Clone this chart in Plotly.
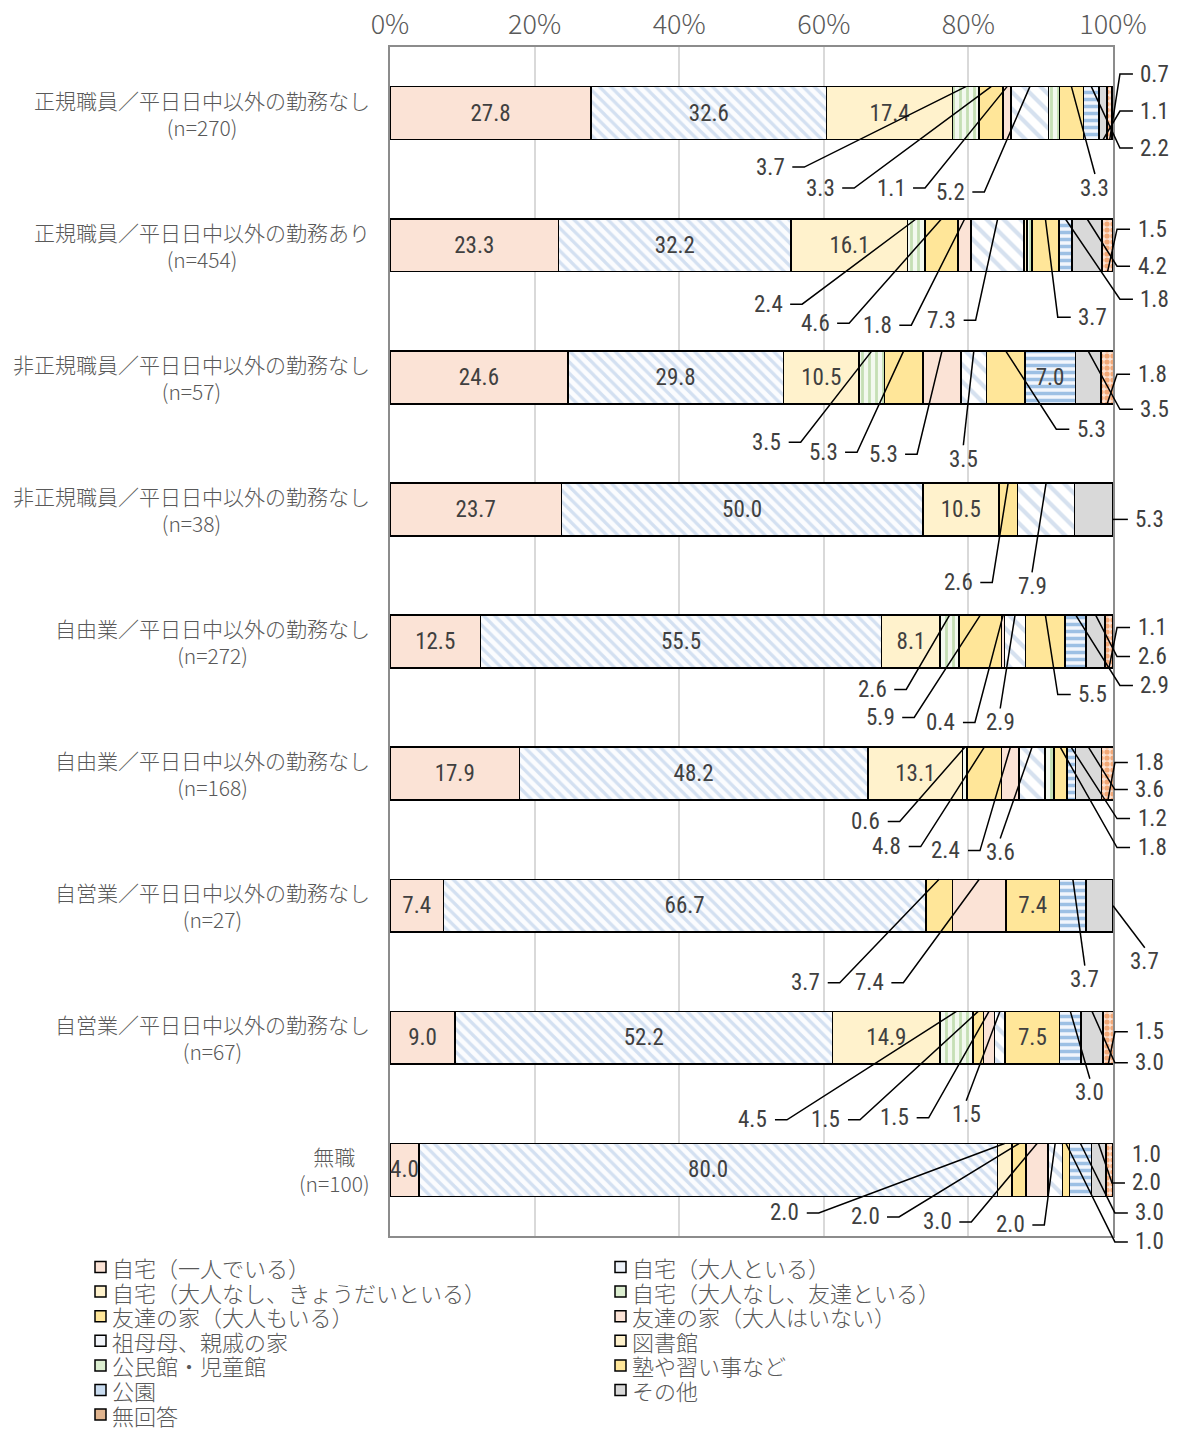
import plotly.graph_objects as go

# ---------------- data ----------------
categories = [
    "自宅（一人でいる）", "自宅（大人といる）", "自宅（大人なし、きょうだいといる）",
    "自宅（大人なし、友達といる）", "友達の家（大人もいる）", "友達の家（大人はいない）",
    "祖母母、親戚の家", "図書館", "公民館・児童館", "塾や習い事など", "公園", "その他", "無回答",
]
groups = [
    "正規職員／平日日中以外の勤務なし", "正規職員／平日日中以外の勤務あり",
    "非正規職員／平日日中以外の勤務なし", "非正規職員／平日日中以外の勤務なし",
    "自由業／平日日中以外の勤務なし", "自由業／平日日中以外の勤務なし",
    "自営業／平日日中以外の勤務なし", "自営業／平日日中以外の勤務なし", "無職",
]
n_labels = ["(n=270)", "(n=454)", "(n=57)", "(n=38)", "(n=272)", "(n=168)", "(n=27)", "(n=67)", "(n=100)"]

home_alone     = [27.8, 23.3, 24.6, 23.7, 12.5, 17.9, 7.4, 9.0, 4.0]
home_adult     = [32.6, 32.2, 29.8, 50.0, 55.5, 48.2, 66.7, 52.2, 80.0]
home_sibling   = [17.4, 16.1, 10.5, 10.5, 8.1, 13.1, 0.0, 14.9, 2.0]
home_friend    = [3.7, 2.4, 3.5, 0.0, 2.6, 0.6, 0.0, 4.5, 0.0]
friend_adult   = [3.3, 4.6, 5.3, 2.6, 5.9, 4.8, 3.7, 1.5, 2.0]
friend_noadult = [1.1, 1.8, 5.3, 0.0, 0.4, 2.4, 7.4, 1.5, 3.0]
grandparents   = [5.2, 7.3, 3.5, 7.9, 2.9, 3.6, 0.0, 1.5, 2.0]
library        = [0.0, 0.4, 0.0, 0.0, 0.0, 0.0, 0.0, 0.0, 0.0]
community      = [1.5, 0.7, 0.0, 0.0, 0.0, 1.2, 0.0, 0.0, 0.0]
cram_school    = [3.3, 3.7, 5.3, 0.0, 5.5, 1.8, 7.4, 7.5, 1.0]
park           = [2.2, 1.8, 7.0, 0.0, 2.9, 1.2, 3.7, 3.0, 3.0]
other          = [1.1, 4.2, 3.5, 5.3, 2.6, 3.6, 3.7, 3.0, 2.0]
no_answer      = [0.7, 1.5, 1.8, 0.0, 1.1, 1.8, 0.0, 1.5, 1.0]

series = [home_alone, home_adult, home_sibling, home_friend, friend_adult, friend_noadult,
          grandparents, library, community, cram_school, park, other, no_answer]

axis_ticks = [0, 20, 40, 60, 80, 100]
axis_ticktext = ["0%", "20%", "40%", "60%", "80%", "100%"]

# ---------------- styles ----------------
styles = [
    dict(color="#FBE3D6"),
    dict(pattern=dict(shape="\\", fgcolor="#D3E0F1", bgcolor="#FBFCFE", size=8, solidity=0.4)),
    dict(color="#FFF2CC"),
    dict(pattern=dict(shape="|", fgcolor="#C5DFB4", bgcolor="#F3F9EF", size=7, solidity=0.4)),
    dict(color="#FFE699"),
    dict(color="#FBE3D6"),
    dict(pattern=dict(shape="\\", fgcolor="#D6E1EF", bgcolor="#FFFFFF", size=12, solidity=0.35)),
    dict(color="#FFF2CC"),
    dict(pattern=dict(shape="|", fgcolor="#C5DFB4", bgcolor="#F3F9EF", size=7, solidity=0.4)),
    dict(color="#FFE699"),
    dict(pattern=dict(shape="-", fgcolor="#9DC0E4", bgcolor="#F2F6FC", size=7, solidity=0.5)),
    dict(color="#D9D9D9"),
    dict(pattern=dict(shape=".", fgcolor="#F2A877", bgcolor="#FCE4D6", size=6, solidity=0.6)),
]
legend_colors = ["#FBE3D6", "#EEF3FA", "#FFF2CC", "#DCEED0", "#FFE699", "#FBE3D6",
                 "#F2F5FA", "#FFF2CC", "#DCEED0", "#FFE699", "#C9DCF0", "#D9D9D9", "#E0B48E"]

# callout label placement: (row, series, label x in %, dy px from bar centre, mode[, anchor])
callouts = [
    (0, 3, 52.6, 54, "L"), (0, 4, 59.5, 75, "L"), (0, 5, 69.3, 75, "L"), (0, 6, 77.5, 79, "L"),
    (0, 9, 97.5, 75, "T"), (0, 12, 105.8, -39, "R"), (0, 11, 105.8, -2, "R"), (0, 10, 105.8, 35, "R"),
    (1, 3, 52.3, 59, "L"), (1, 4, 58.8, 78, "L"), (1, 5, 67.4, 80, "L"), (1, 6, 76.3, 75, "L"),
    (1, 9, 97.2, 72, "R"), (1, 12, 105.4, -16, "R"), (1, 11, 105.4, 21, "R"), (1, 10, 105.8, 54, "R"),
    (2, 3, 52.1, 65, "L"), (2, 4, 59.9, 75, "L"), (2, 5, 68.2, 77, "L"), (2, 6, 79.3, 82, "T"),
    (2, 9, 97.0, 52, "R"), (2, 12, 105.4, -3, "R"), (2, 11, 105.8, 32, "R"),
    (3, 4, 78.6, 73, "L"), (3, 6, 88.8, 77, "T"), (3, 11, 105.1, 10, "R", "r"),
    (4, 3, 66.7, 48, "L"), (4, 4, 67.8, 76, "L"), (4, 5, 76.2, 81, "L"), (4, 6, 84.4, 81, "T"),
    (4, 9, 97.2, 53, "R"), (4, 12, 105.4, -14, "R"), (4, 11, 105.4, 15, "R"), (4, 10, 105.8, 44, "R"),
    (5, 3, 65.8, 48, "L"), (5, 4, 68.7, 73, "L"), (5, 5, 76.9, 77, "L"), (5, 6, 84.4, 79, "T"),
    (5, 12, 105.1, -11, "R"), (5, 11, 105.1, 16, "R"), (5, 10, 105.4, 45, "R"), (5, 9, 105.4, 74, "R"),
    (6, 4, 57.5, 77, "L"), (6, 5, 66.3, 77, "L"), (6, 10, 96.1, 74, "T"), (6, 11, 104.4, 56, "T", "r"),
    (7, 3, 50.2, 82, "L"), (7, 4, 60.3, 82, "L"), (7, 5, 69.8, 80, "L"), (7, 6, 79.7, 77, "T"),
    (7, 10, 96.8, 55, "T"), (7, 12, 105.1, -6, "R"), (7, 11, 105.1, 25, "R"),
    (8, 2, 54.6, 43, "L"), (8, 4, 65.7, 47, "L"), (8, 5, 75.7, 52, "L"), (8, 6, 85.8, 55, "L"),
    (8, 12, 104.7, -15, "N"), (8, 11, 104.7, 13, "R"), (8, 10, 105.1, 43, "R"), (8, 9, 105.1, 72, "R"),
]

# ---------------- geometry ----------------
W, H = 1182, 1430
ML, MT = 390, 47
PW, PH = 723, 1189
MR, MB = W - ML - PW, H - MT - PH
NROW = len(groups)
BAR_W = 0.4

NUM_FONT = dict(family="Liberation Sans Narrow, Roboto Condensed, Roboto, sans-serif", size=23, color="#404040")
JP_FONT = "Noto Sans CJK JP, sans-serif"


def row_to_paper(yv):
    return (NROW - 0.5 - yv) / NROW


def px_dx(d):
    return d / PW


def px_dy(d):
    return -d / PH


def abs_x(px):
    return (px - ML) / PW


def abs_y(py):
    return (MT + PH - py) / PH


called = {(c[0], c[1]) for c in callouts}
rows = list(range(NROW))

fig = go.Figure()
for i, cat in enumerate(categories):
    vals = series[i]
    txt = [f"{v:.1f}" if (v >= 4 and (r, i) not in called) else "" for r, v in enumerate(vals)]
    st = styles[i]
    marker = dict(line=dict(color="#000000", width=1.6))
    if "pattern" in st:
        marker["color"] = st["pattern"]["bgcolor"]
        marker["pattern"] = dict(fillmode="replace", **st["pattern"])
    else:
        marker["color"] = st["color"]
    fig.add_trace(go.Bar(
        x=vals, y=rows, orientation="h", name=cat, width=BAR_W,
        marker=marker, text=txt, textposition="inside", insidetextanchor="middle",
        textangle=0, constraintext="none", textfont=NUM_FONT, showlegend=False,
        hovertemplate=cat + ": %{x:.1f}%<extra></extra>",
    ))

shapes = []
annotations = []

# callout labels + leader lines
for c in callouts:
    r, s, lx, dy, mode = c[:5]
    anchor = c[5] if len(c) > 5 else None
    vals = [series[k][r] for k in range(len(series))]
    start = sum(vals[:s])
    end = start + vals[s]
    mid = (start + end) / 2
    x_lab = lx / 100
    y_lab = row_to_paper(r) + px_dy(dy)
    annotations.append(dict(x=x_lab, y=y_lab, xref="paper", yref="paper", text=f"{vals[s]:.1f}",
                            showarrow=False, font=NUM_FONT, xanchor="center", yanchor="middle"))
    if mode == "N":
        continue
    if anchor == "r":
        ax = end / 100
        ay = y_lab if abs(dy) < 26 else row_to_paper(r)
    else:
        ax = mid / 100
        ay = row_to_paper(r - BAR_W / 2) if dy > 0 else row_to_paper(r + BAR_W / 2)
    if mode == "L":
        path = (f"M {x_lab + px_dx(22)},{y_lab} L {x_lab + px_dx(34)},{y_lab} L {ax},{ay}")
    elif mode == "R":
        path = (f"M {x_lab - px_dx(22)},{y_lab} L {x_lab - px_dx(35)},{y_lab} L {ax},{ay}")
    else:  # T: from the top of the label
        path = f"M {x_lab},{y_lab + 14 / PH} L {ax},{ay}"
    shapes.append(dict(type="path", path=path, xref="paper", yref="paper",
                       line=dict(color="#000000", width=1.5), layer="above"))

# category labels
for r in rows:
    annotations.append(dict(x=abs_x(372), y=row_to_paper(r), xref="paper", yref="paper",
                            text=f"{groups[r]}<br>{n_labels[r]}", showarrow=False,
                            xanchor="right", yanchor="middle", align="center",
                            font=dict(family=JP_FONT, size=21, color="#595959", weight=300)))

# manual legend (two columns)
for i, cat in enumerate(categories):
    col, rw = i % 2, i // 2
    bx = 95 if col == 0 else 615
    cy = 1267 + rw * 24.6
    shapes.append(dict(type="rect", xref="paper", yref="paper",
                       x0=abs_x(bx), x1=abs_x(bx + 11), y0=abs_y(cy - 5.5), y1=abs_y(cy + 5.5),
                       fillcolor=legend_colors[i], line=dict(color="#000000", width=1.5)))
    annotations.append(dict(x=abs_x(bx + 15), y=abs_y(cy), xref="paper", yref="paper",
                            text=cat, showarrow=False, xanchor="left", yanchor="middle",
                            font=dict(family=JP_FONT, size=22, color="#595959", weight=300)))

fig.update_layout(
    barmode="stack",
    width=W, height=H,
    margin=dict(l=ML, r=MR, t=MT, b=MB, pad=0, autoexpand=False),
    paper_bgcolor="#FFFFFF", plot_bgcolor="#FFFFFF",
    shapes=shapes, annotations=annotations,
    xaxis=dict(side="top", range=[0, 100], tickvals=axis_ticks, ticktext=axis_ticktext,
               automargin=False,
               showgrid=True, gridcolor="#D9D9D9", gridwidth=1.5, zeroline=False,
               showline=True, linecolor="#8C8C8C", linewidth=1.5, mirror=True, ticks="",
               ticklabelstandoff=0,
               tickfont=dict(family=JP_FONT, size=27, color="#595959", weight=300)),
    yaxis=dict(range=[NROW - 0.5, -0.5], showticklabels=False, showgrid=False, zeroline=False,
               automargin=False,
               showline=True, linecolor="#8C8C8C", linewidth=1.5, mirror=True, ticks=""),
)

fig.write_html("out.html", config={"displayModeBar": False},
               post_script="document.body.style.margin='0px';")
